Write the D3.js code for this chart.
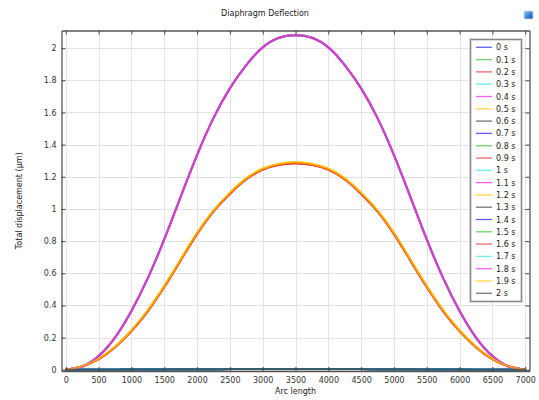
<!DOCTYPE html>
<html>
<head>
<meta charset="utf-8">
<script src="https://cdn.jsdelivr.net/npm/d3@7"></script>
<style>
  html, body { margin: 0; padding: 0; background: #fff; }
  svg { display: block; font-family: "DejaVu Sans", sans-serif; }
</style>
</head>
<body>
<svg id="chart" width="539" height="400"></svg>
<script>
// Arc-length sample positions along the diaphragm
const arcLength = [0, 250, 500, 750, 1000, 1250, 1500, 1750, 2000, 2250, 2500, 2750, 3000, 3250, 3500,
  3750, 4000, 4250, 4500, 4750, 5000, 5250, 5500, 5750, 6000, 6250, 6500, 6750, 7000];

// Deflection profiles (µm) that occur in the time series
const profileHigh = [0, 0.02, 0.085, 0.2, 0.365, 0.57, 0.81, 1.075, 1.335, 1.565, 1.75, 1.895, 2.005, 2.065, 2.08,
  2.065, 2.005, 1.895, 1.75, 1.565, 1.335, 1.075, 0.81, 0.57, 0.365, 0.2, 0.085, 0.02, 0];
const profileMidRed = [0, 0.02, 0.065, 0.14, 0.24, 0.365, 0.515, 0.68, 0.845, 0.985, 1.095, 1.185, 1.245, 1.275, 1.285,
  1.275, 1.245, 1.185, 1.095, 0.985, 0.845, 0.68, 0.515, 0.365, 0.24, 0.14, 0.065, 0.02, 0];
const profileMidYellow = [0, 0.021, 0.067, 0.143, 0.244, 0.37, 0.52, 0.685, 0.85, 0.99, 1.1, 1.19, 1.25, 1.28, 1.29,
  1.28, 1.25, 1.19, 1.1, 0.99, 0.85, 0.685, 0.52, 0.37, 0.244, 0.143, 0.067, 0.021, 0];
const profileRest = [0, 0, 0.0002, 0.0005, 0.001, 0.0015, 0.002, 0.0025, 0.003, 0.0035, 0.004, 0.004, 0.0045, 0.0045, 0.0045,
  0.0045, 0.0045, 0.004, 0.004, 0.0035, 0.003, 0.0025, 0.002, 0.0015, 0.001, 0.0005, 0.0002, 0, 0];

// Output times and the profile reached at each of them
const timeLabels = ["0 s", "0.1 s", "0.2 s", "0.3 s", "0.4 s", "0.5 s", "0.6 s", "0.7 s", "0.8 s", "0.9 s", "1 s",
  "1.1 s", "1.2 s", "1.3 s", "1.4 s", "1.5 s", "1.6 s", "1.7 s", "1.8 s", "1.9 s", "2 s"];
const timeProfiles = [profileRest, profileRest, profileMidRed, profileRest, profileHigh, profileMidYellow, profileRest,
  profileRest, profileHigh, profileMidRed, profileRest, profileHigh, profileMidYellow, profileRest,
  profileRest, profileHigh, profileMidRed, profileRest, profileHigh, profileMidYellow, profileRest];

// Line colour cycle
const colorCycle = ["#1a1aff", "#2fc02f", "#e82a2a", "#2ee6e6", "#ff1aff", "#ffc400", "#3c3c3c"];

const xTicks = d3.range(0, 7001, 500);
const yTicks = [0, 0.2, 0.4, 0.6, 0.8, 1, 1.2, 1.4, 1.6, 1.8, 2];

const svg = d3.select("#chart");
const L = 61.5, R = 529.5, T = 30.5, B = 371;

const x = d3.scaleLinear().domain([-65, 7065]).range([L, R]);
const y = d3.scaleLinear().domain([-0.008, 2.11]).range([B, T]);

// Grid
const grid = svg.append("g").attr("stroke", "#e3e3e3").attr("stroke-width", 1);
grid.selectAll("line.gx").data(xTicks).join("line")
  .attr("x1", d => Math.round(x(d)) + 0.5).attr("x2", d => Math.round(x(d)) + 0.5)
  .attr("y1", T).attr("y2", B);
grid.selectAll("line.gy").data(yTicks).join("line")
  .attr("y1", d => Math.round(y(d)) + 0.5).attr("y2", d => Math.round(y(d)) + 0.5)
  .attr("x1", L).attr("x2", R);

// Curves
const line = d3.line()
  .x((d, i) => x(arcLength[i]))
  .y(d => y(d))
  .curve(d3.curveNatural);

const plot = svg.append("g");
plot.selectAll("path").data(timeProfiles).join("path")
  .attr("d", d => line(d))
  .attr("fill", "none")
  .attr("stroke", (d, i) => colorCycle[i % colorCycle.length])
  .attr("stroke-width", 2)
  .attr("stroke-opacity", 0.72);

// Axes with inward ticks
function styleAxis(g) {
  g.select(".domain").attr("stroke", "#555").attr("stroke-width", 1.3);
  g.selectAll(".tick line").attr("stroke", "#444");
  g.selectAll(".tick text").attr("fill", "#333").attr("font-size", 8)
    .attr("font-family", "DejaVu Sans, sans-serif");
}

svg.append("g").attr("transform", `translate(0,${B})`)
  .call(d3.axisBottom(x).tickValues(xTicks).tickSize(-4).tickPadding(6).tickSizeOuter(0)
    .tickFormat(d3.format("d")))
  .call(styleAxis);
svg.append("g").attr("transform", `translate(${L},0)`)
  .call(d3.axisLeft(y).tickValues(yTicks).tickSize(-4).tickPadding(5).tickSizeOuter(0)
    .tickFormat(d3.format("~g")))
  .call(styleAxis);
svg.append("g").attr("transform", `translate(0,${T})`)
  .call(d3.axisTop(x).tickValues(xTicks).tickSize(-4).tickFormat("").tickSizeOuter(0))
  .call(styleAxis);
svg.append("g").attr("transform", `translate(${R},0)`)
  .call(d3.axisRight(y).tickValues(yTicks).tickSize(-4).tickFormat("").tickSizeOuter(0))
  .call(styleAxis);

// Titles
svg.append("text").attr("x", 265).attr("y", 16).attr("text-anchor", "middle")
  .attr("font-size", 8).attr("fill", "#222").text("Diaphragm Deflection");
svg.append("text").attr("x", (L + R) / 2).attr("y", 394).attr("text-anchor", "middle")
  .attr("font-size", 8).attr("fill", "#222").text("Arc length");
svg.append("text").attr("transform", `translate(22,${(T + B) / 2}) rotate(-90)`)
  .attr("text-anchor", "middle").attr("font-size", 8).attr("fill", "#222")
  .text("Total displacement (µm)");

// Small toolbar icon
const icon = svg.append("g").attr("transform", "translate(524,11)");
const grad = svg.append("defs").append("linearGradient").attr("id", "ig")
  .attr("x1", 0).attr("y1", 0).attr("x2", 1).attr("y2", 1);
grad.append("stop").attr("offset", 0).attr("stop-color", "#6fd0ff");
grad.append("stop").attr("offset", 1).attr("stop-color", "#1a3fb0");
icon.append("rect").attr("width", 9).attr("height", 8).attr("rx", 1.5)
  .attr("fill", "url(#ig)").attr("stroke", "#c8d8e8").attr("stroke-width", 1);

// Legend
const lg = svg.append("g");
lg.append("rect").attr("x", 470.5).attr("y", 39.5).attr("width", 51).attr("height", 262)
  .attr("fill", "#fff").attr("stroke", "#888").attr("stroke-width", 1.6);
const entries = lg.selectAll("g.entry").data(timeLabels).join("g")
  .attr("transform", (d, i) => `translate(0,${47.3 + i * 12.3})`);
entries.append("line").attr("x1", 476).attr("x2", 492).attr("y1", 0).attr("y2", 0)
  .attr("stroke", (d, i) => colorCycle[i % colorCycle.length])
  .attr("stroke-width", 1.3).attr("stroke-opacity", 0.7);
entries.append("text").attr("x", 496).attr("y", 3).attr("font-size", 8).attr("fill", "#222")
  .text(d => d);
</script>
</body>
</html>
